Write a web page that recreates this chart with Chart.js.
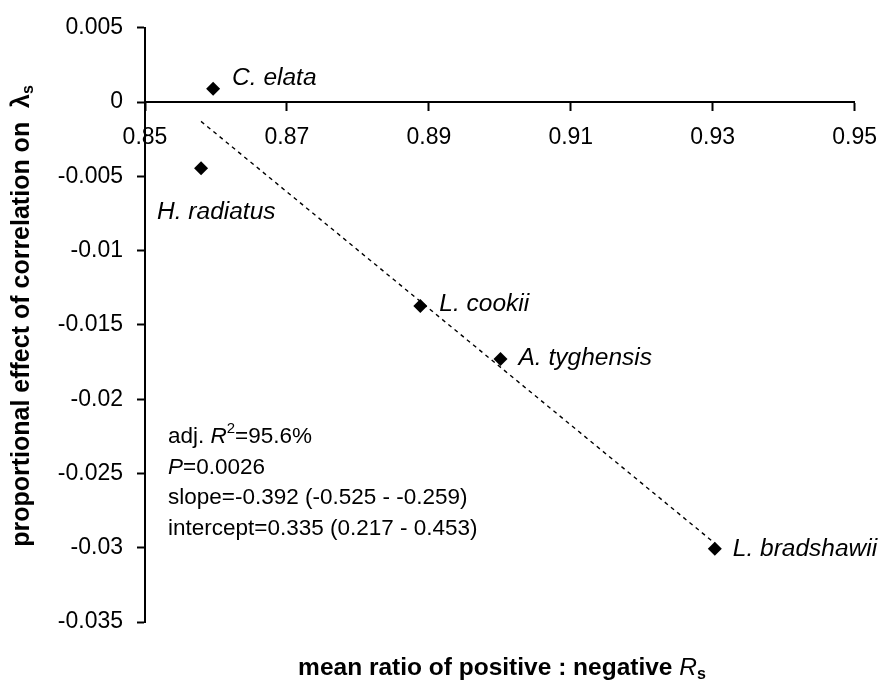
<!DOCTYPE html>
<html>
<head>
<meta charset="utf-8">
<script src="https://cdn.jsdelivr.net/npm/chart.js@4/dist/chart.umd.min.js"></script>
<style>
  html, body { margin: 0; padding: 0; background: #fff; }
  #wrap { width: 891px; height: 682px; position: relative; }
</style>
</head>
<body>
<div id="wrap"><canvas id="ScatterChart"></canvas></div>
<script>
// species and values
const species = ['C. elata', 'H. radiatus', 'L. cookii', 'A. tyghensis', 'L. bradshawii'];
const meanRatio = [0.8596, 0.8579, 0.8888, 0.9001, 0.9303];
const effectOnLambda = [0.0009, -0.00446, -0.01372, -0.01729, -0.03007];

// dotted regression line, ends
const trendX = [0.8579, 0.9303];
const trendY = [-0.0013, -0.0297];

const statLines = [
    [['adj. ', ''], ['R', 'italic'], ['2', 'sup'], ['=95.6%', '']],
    [['P', 'italic'], ['=0.0026', '']],
    [['slope=-0.392 (-0.525 - -0.259)', '']],
    [['intercept=0.335 (0.217 - 0.453)', '']]
];

const FONT = '"Liberation Sans", Arial, sans-serif';

// where each species name sits relative to its marker (px)
const labelOffsets = [[19, -11], [-44, 44], [19, -2], [18, -1], [18, 0]];

function drawRich(ctx, parts, x, y, size, bold) {
    let cx = x;
    parts.forEach(([text, kind]) => {
        let s = size, dy = 0, style = '';
        if (kind === 'italic') style = 'italic ';
        if (kind === 'sup') { s = Math.round(size * 0.65); dy = -size * 0.38; }
        if (kind === 'sub') { s = Math.round(size * 0.65); dy = size * 0.25; }
        ctx.font = style + (bold && kind !== 'italic' ? 'bold ' : '') + s + 'px ' + FONT;
        ctx.fillText(text, cx, y + dy);
        cx += ctx.measureText(text).width;
    });
    return cx - x;
}

function measureRich(ctx, parts, size, bold) {
    let w = 0;
    parts.forEach(([text, kind]) => {
        let s = size, style = '';
        if (kind === 'italic') style = 'italic ';
        if (kind === 'sup' || kind === 'sub') s = Math.round(size * 0.65);
        ctx.font = style + (bold && kind !== 'italic' ? 'bold ' : '') + s + 'px ' + FONT;
        w += ctx.measureText(text).width;
    });
    return w;
}

const annotations = {
    id: 'annotations',
    afterDatasetsDraw(chart) {
        const ctx = chart.ctx;
        ctx.save();
        ctx.fillStyle = '#000';
        ctx.textBaseline = 'middle';
        ctx.textAlign = 'left';

        // species names
        const meta = chart.getDatasetMeta(0);
        meta.data.forEach((pt, i) => {
            ctx.font = 'italic 24.5px ' + FONT;
            ctx.fillText(species[i], pt.x + labelOffsets[i][0], pt.y + labelOffsets[i][1]);
        });

        // regression stats
        statLines.forEach((line, i) => {
            drawRich(ctx, line, 168, 437 + i * 30.5, 22.5, false);
        });

        // x title
        const xParts = [['mean ratio of positive : negative ', ''], ['R', 'italic'], ['s', 'sub']];
        const xw = measureRich(ctx, xParts, 24.5, true);
        drawRich(ctx, xParts, 502 - xw / 2, 668, 24.5, true);

        // y title
        const yParts = [['proportional effect of correlation on  \u03bb', ''], ['s', 'sub']];
        const yw = measureRich(ctx, yParts, 25, true);
        ctx.translate(22, 316);
        ctx.rotate(-Math.PI / 2);
        drawRich(ctx, yParts, -yw / 2, 0, 25, true);
        ctx.restore();
    }
};

new Chart(document.getElementById('ScatterChart').getContext('2d'), {
    type: 'scatter',
    data: {
        datasets: [{
            label: 'species',
            data: meanRatio.map((x, i) => ({x: x, y: effectOnLambda[i]})),
            pointStyle: 'rectRot',
            pointRadius: 7,
            pointHoverRadius: 7,
            backgroundColor: '#000',
            borderColor: '#000',
            borderWidth: 0
        }, {
            label: 'trend',
            type: 'line',
            data: trendX.map((x, i) => ({x: x, y: trendY[i]})),
            borderColor: '#000',
            borderWidth: 1.4,
            borderDash: [4, 4],
            pointRadius: 0,
            fill: false
        }]
    },
    options: {
        responsive: true,
        maintainAspectRatio: false,
        animation: false,
        events: [],
        layout: {
            padding: {left: 0, right: 34, top: 24, bottom: 60}
        },
        scales: {
            x: {
                type: 'linear',
                position: {y: 0},
                min: 0.85,
                max: 0.95,
                ticks: {
                    stepSize: 0.02,
                    color: '#000',
                    padding: 14,
                    maxRotation: 0,
                    font: {family: FONT, size: 23},
                    callback: (v) => Number(v).toFixed(2)
                },
                grid: {
                    drawOnChartArea: false,
                    drawTicks: true,
                    tickLength: 8,
                    tickWidth: 2,
                    color: '#000'
                },
                border: {color: '#000', width: 2}
            },
            y: {
                type: 'linear',
                min: -0.035,
                max: 0.005,
                afterFit: (scale) => { scale.width = 145; },
                ticks: {
                    stepSize: 0.005,
                    color: '#000',
                    padding: 14,
                    font: {family: FONT, size: 23},
                    callback: (v) => String(Number(Number(v).toFixed(3)) || 0)
                },
                grid: {
                    drawOnChartArea: false,
                    drawTicks: true,
                    tickLength: 8,
                    tickWidth: 2,
                    color: '#000'
                },
                border: {color: '#000', width: 2}
            }
        },
        plugins: {
            legend: {display: false},
            tooltip: {enabled: false}
        }
    },
    plugins: [annotations]
});
</script>
</body>
</html>
